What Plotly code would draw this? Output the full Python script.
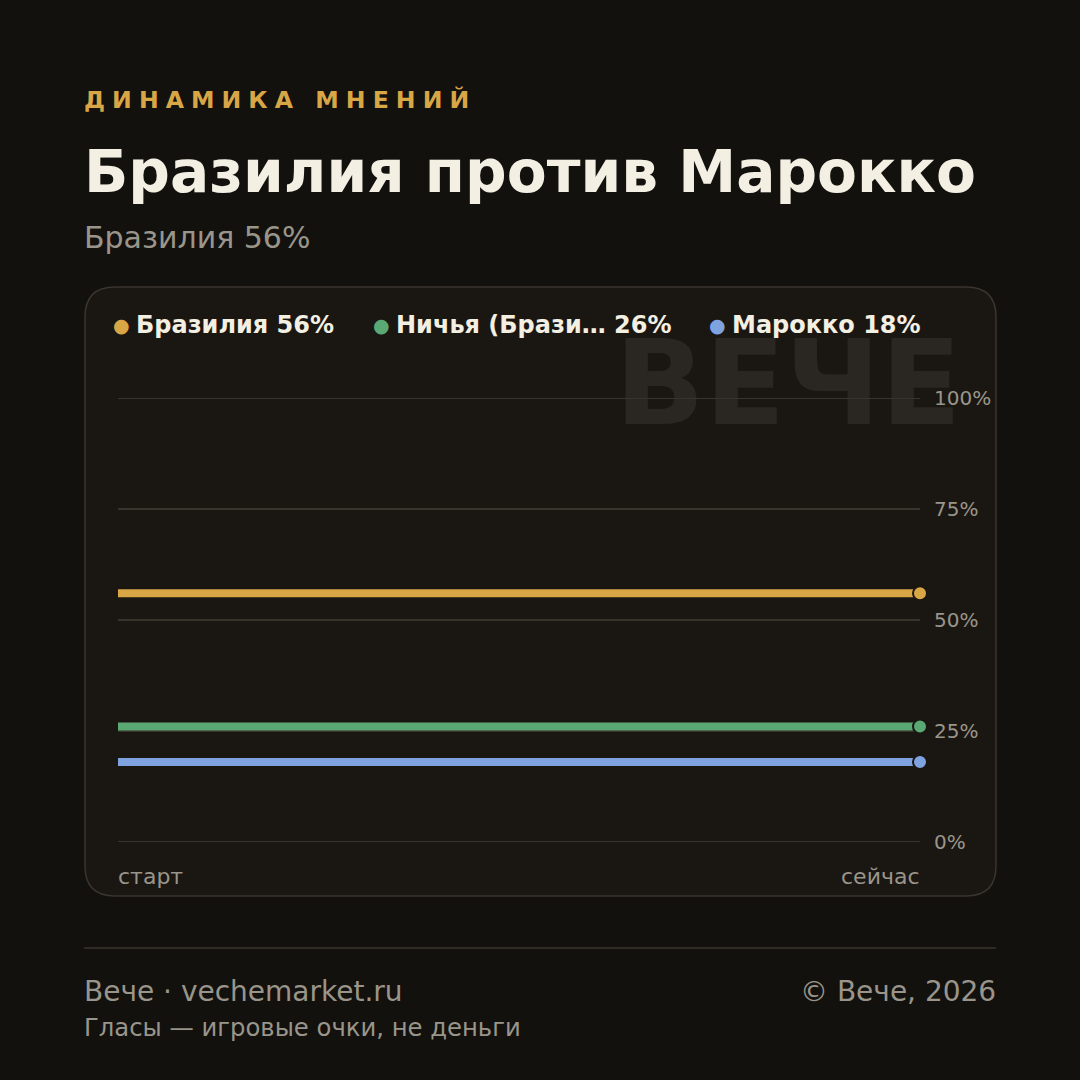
import plotly.graph_objects as go

# ---- data ----
x_labels = ["старт", "сейчас"]
series_names = ["Бразилия", "Ничья (Брази…", "Марокко"]
series_values = [[56, 56], [26, 26], [18, 18]]
series_colors = ["#d9a646", "#5aa873", "#7fa3e0"]
y_ticks = [0, 25, 50, 75, 100]

kicker = "ДИНАМИКА МНЕНИЙ"
title = "Бразилия против Марокко"
subtitle = "Бразилия 56%"
watermark = "ВЕЧЕ"
footer_left = "Вече · vechemarket.ru"
footer_right = "© Вече, 2026"
footer_note = "Гласы — игровые очки, не деньги"

W = H = 1080
FONT = "DejaVu Sans"
BG = "#12110e"
CARD = "#1a1713"
TXT = "#f3efe2"
MUTED = "#9a958a"
GOLD = "#d9a646"
GRID = "#38332b"


def px(x):
    return x / W


def py(y):
    return 1 - y / H


fig = go.Figure()

x_idx = list(range(len(x_labels)))
for name, vals, col in zip(series_names, series_values, series_colors):
    fig.add_trace(go.Scatter(
        x=x_idx, y=vals, mode="lines", name=name,
        line=dict(color=col, width=8),
        cliponaxis=False, showlegend=False, hoverinfo="skip",
    ))
for name, vals, col in zip(series_names, series_values, series_colors):
    fig.add_trace(go.Scatter(
        x=x_idx[-1:], y=vals[-1:], mode="markers", name=name,
        marker=dict(color=col, size=14, line=dict(color=CARD, width=2)),
        cliponaxis=False, showlegend=False, hoverinfo="skip",
    ))

shapes = []
# card
x0, x1, y0, y1, r = px(85), px(996), py(287), py(896), 30 / W
path = (f"M {x0 + r},{y0} L {x1 - r},{y0} Q {x1},{y0} {x1},{y0 - r} "
        f"L {x1},{y1 + r} Q {x1},{y1} {x1 - r},{y1} "
        f"L {x0 + r},{y1} Q {x0},{y1} {x0},{y1 + r} "
        f"L {x0},{y0 - r} Q {x0},{y0} {x0 + r},{y0} Z")
shapes.append(dict(type="path", xref="paper", yref="paper", path=path,
                   fillcolor=CARD, line=dict(color="#3a352d", width=1.5), layer="below"))
# watermark (below gridlines)
shapes.append(dict(type="rect", xref="paper", yref="paper",
                   x0=px(598), x1=px(978), y0=py(320), y1=py(430),
                   line=dict(width=0), fillcolor="rgba(0,0,0,0)", layer="below",
                   label=dict(text=f"<b>{watermark}</b>", textposition="middle center",
                              font=dict(family=FONT, size=118, color="#2a2722"))))
# gridlines
for t in y_ticks:
    shapes.append(dict(type="line", xref="x", yref="y", x0=x_idx[0], x1=x_idx[-1],
                       y0=t, y1=t, line=dict(color=GRID, width=2), layer="below"))
# footer divider
shapes.append(dict(type="line", xref="paper", yref="paper",
                   x0=px(84), x1=px(996), y0=py(948), y1=py(948),
                   line=dict(color="#2e2a24", width=2)))

annotations = []


def ann(text, x, y, size, color, xanchor="left", bold=False, xref="paper", yref="paper"):
    annotations.append(dict(
        text=f"<b>{text}</b>" if bold else text,
        x=px(x) if xref == "paper" else x, y=py(y) if yref == "paper" else y,
        xref=xref, yref=yref, xanchor=xanchor, yanchor="middle",
        xshift=-1 if xanchor == "left" else (1 if xanchor == "right" else 0),
        borderpad=0, showarrow=False, font=dict(family=FONT, size=size, color=color)))


gap = "\u2009\u200a"
kick_txt = (gap + " " + gap).join(gap.join(word) for word in kicker.split(" "))
ann(kick_txt, 84, 100, 23.6, GOLD, bold=True)
ann(title, 84, 172, 58.2, TXT, bold=True)
ann(subtitle, 84, 237, 30, MUTED)

# legend
legend_dot_x = [121, 381, 717]
for name, vals, col, dx in zip(series_names, series_values, series_colors, legend_dot_x):
    ann("●", dx, 325, 19, col, xanchor="center")
    ann(f"{name} {vals[-1]}%", dx + 15, 325, 24, TXT, bold=True)

# y tick labels
for t in y_ticks:
    ann(f"{t}%", 934, t, 20, MUTED, yref="y")

# x labels
ann(x_labels[0], x_idx[0], 876, 22, MUTED, xref="x")
ann(x_labels[-1], x_idx[-1], 876, 22, MUTED, xanchor="right", xref="x")

ann(footer_left, 84, 991, 28, MUTED)
ann(footer_right, 996, 991, 28, MUTED, xanchor="right")
ann(footer_note, 84, 1027, 24.3, MUTED)

fig.update_layout(
    width=W, height=H, margin=dict(l=0, r=0, t=0, b=0, pad=0, autoexpand=False),
    paper_bgcolor=BG, plot_bgcolor="rgba(0,0,0,0)",
    shapes=shapes, annotations=annotations, showlegend=False,
    xaxis=dict(domain=[px(118), px(920)], range=[x_idx[0], x_idx[-1]], showgrid=False,
               zeroline=False, showticklabels=False, showline=False, ticks="",
               automargin=False, fixedrange=True),
    yaxis=dict(domain=[py(842), py(398)], range=[0, 100], showgrid=False,
               zeroline=False, showline=False, ticks="", showticklabels=False,
               automargin=False, fixedrange=True),
)

fig.write_html("out.html")
